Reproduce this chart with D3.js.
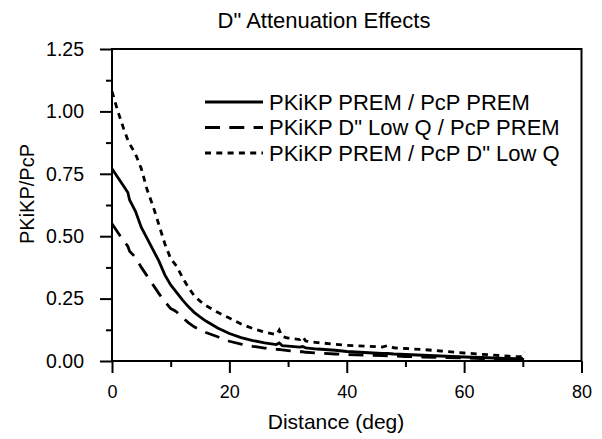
<!DOCTYPE html>
<html>
<head>
<meta charset="utf-8">
<script src="https://cdn.jsdelivr.net/npm/d3@7"></script>
<style>
  body { margin: 0; background: #fff; }
  text { font-family: "Liberation Sans", Arial, Helvetica, sans-serif; fill: #000; }
</style>
</head>
<body>
<svg id="chart" width="602" height="439"></svg>
<script>

/****** Data ******/

var chartTitle = 'D" Attenuation Effects',
    xTitle = "Distance (deg)",
    yTitle = "PKiKP/PcP";

var seriesNames = [
  "PKiKP PREM / PcP PREM",
  'PKiKP D" Low Q / PcP PREM',
  'PKiKP PREM / PcP D" Low Q'
];

// distance in degrees, shared by all three curves
var distance = [0, 1, 2, 2.7, 3, 4, 5, 6, 7, 8, 9, 10, 10.5, 11, 12, 13, 14, 15, 16, 18,
                20, 22, 24, 26, 28, 28.5, 29, 30, 32, 32.5, 33, 35, 38, 40, 43, 46, 47, 48,
                50, 53, 56, 60, 63, 66, 69, 69.8, 70.2];

var premPrem = [0.77, 0.735, 0.70, 0.675, 0.645, 0.60, 0.535, 0.49, 0.445, 0.40, 0.345, 0.305,
                0.29, 0.275, 0.245, 0.218, 0.195, 0.177, 0.16, 0.132, 0.11, 0.094, 0.082, 0.073,
                0.066, 0.072, 0.062, 0.06, 0.056, 0.058, 0.053, 0.048, 0.043, 0.038, 0.034,
                0.030, 0.030, 0.028, 0.026, 0.023, 0.020, 0.016, 0.014, 0.011, 0.009, 0.008, 0.006];

var lowQPrem = [0.55, 0.515, 0.48, 0.46, 0.44, 0.415, 0.375, 0.34, 0.305, 0.27, 0.238, 0.21,
                0.204, 0.197, 0.174, 0.154, 0.137, 0.125, 0.114, 0.097, 0.079, 0.068, 0.059, 0.052,
                0.047, 0.046, 0.045, 0.042, 0.037, 0.037, 0.035, 0.032, 0.028, 0.026, 0.024,
                0.022, 0.021, 0.020, 0.018, 0.016, 0.014, 0.012, 0.010, 0.008, 0.006, 0.005, 0.004];

var premLowQ = [1.08, 1.0, 0.93, 0.885, 0.87, 0.83, 0.77, 0.685, 0.62, 0.545, 0.47, 0.41,
                0.395, 0.38, 0.335, 0.295, 0.262, 0.24, 0.222, 0.195, 0.172, 0.148, 0.13, 0.116,
                0.105, 0.124, 0.098, 0.092, 0.086, 0.098, 0.08, 0.074, 0.067, 0.063, 0.06,
                0.056, 0.062, 0.053, 0.05, 0.046, 0.04, 0.032, 0.027, 0.022, 0.017, 0.017, 0.037];

var xMajorTicks = [0, 20, 40, 60, 80],
    xMinorTicks = [10, 30, 50, 70],
    yMajorTicks = [0, 0.25, 0.5, 0.75, 1.0, 1.25],
    yMinorTicks = [0.125, 0.375, 0.625, 0.875, 1.125];

/****** Layout ******/

var _svg = d3.select("#chart"),
    _svgWidth = +_svg.attr("width"), _svgHeight = +_svg.attr("height"),
    _margins = {top: 49, right: 20.5, bottom: 78, left: 112},
    _width = _svgWidth - _margins.left - _margins.right,
    _height = _svgHeight - _margins.top - _margins.bottom;

var x = d3.scaleLinear().domain([0, 80]).range([0, _width]),
    y = d3.scaleLinear().domain([0, 1.25]).range([_height, 0]);

var styles = [
  {dash: null},
  {dash: "15,9.3"},
  {dash: "6,5.3"}
];

var series = [premPrem, lowQPrem, premLowQ];

var chart = _svg.append("g")
    .attr("transform", "translate(" + _margins.left + "," + _margins.top + ")");

/****** Axes ******/

function styleAxis(g, fontSize) {
  g.select(".domain").remove();
  g.selectAll("line").attr("stroke", "#000").attr("stroke-width", 2);
  g.selectAll("text").style("font-size", fontSize + "px");
}

chart.append("g")
    .attr("transform", "translate(0," + _height + ")")
    .call(d3.axisBottom(x).tickValues(xMinorTicks).tickSize(6).tickFormat(""))
    .call(styleAxis, 18);

chart.append("g")
    .attr("transform", "translate(0," + _height + ")")
    .call(d3.axisBottom(x).tickValues(xMajorTicks).tickSize(12).tickPadding(12).tickFormat(d3.format("d")))
    .call(styleAxis, 18);

chart.append("g")
    .call(d3.axisLeft(y).tickValues(yMinorTicks).tickSize(6).tickFormat(""))
    .call(styleAxis, 19.5);

chart.append("g")
    .call(d3.axisLeft(y).tickValues(yMajorTicks).tickSize(12).tickPadding(16).tickFormat(d3.format(".2f")))
    .call(styleAxis, 19.5);

chart.append("rect")
    .attr("width", _width)
    .attr("height", _height)
    .attr("fill", "none")
    .attr("stroke", "#000")
    .attr("stroke-width", 2);

/****** Curves ******/

var line = d3.line()
    .x(function (d) { return x(d[0]); })
    .y(function (d) { return y(d[1]); });

series.forEach(function (vals, i) {
  chart.append("path")
      .datum(distance.map(function (d, j) { return [d, vals[j]]; }))
      .attr("d", line)
      .attr("fill", "none")
      .attr("stroke", "#000")
      .attr("stroke-width", 2.8)
      .attr("stroke-dasharray", styles[i].dash);
});

/****** Legend ******/

var legend = chart.append("g")
    .attr("transform", "translate(" + (205 - _margins.left) + "," + (102 - _margins.top) + ")");

seriesNames.forEach(function (name, i) {
  var row = legend.append("g").attr("transform", "translate(0," + (i * 25.5) + ")");
  row.append("line")
      .attr("x1", 0).attr("x2", 58)
      .attr("stroke", "#000")
      .attr("stroke-width", 2.8)
      .attr("stroke-dasharray", styles[i].dash);
  row.append("text")
      .attr("x", 64)
      .attr("dy", "0.35em")
      .style("font-size", "22px")
      .text(name);
});

/****** Titles ******/

_svg.append("text")
    .attr("x", 324).attr("y", 28)
    .attr("text-anchor", "middle")
    .style("font-size", "22px")
    .text(chartTitle);

_svg.append("text")
    .attr("x", 336).attr("y", 429)
    .attr("text-anchor", "middle")
    .style("font-size", "21px")
    .text(xTitle);

_svg.append("text")
    .attr("transform", "translate(34,194) rotate(-90)")
    .attr("text-anchor", "middle")
    .style("font-size", "20px")
    .text(yTitle);

</script>
</body>
</html>
